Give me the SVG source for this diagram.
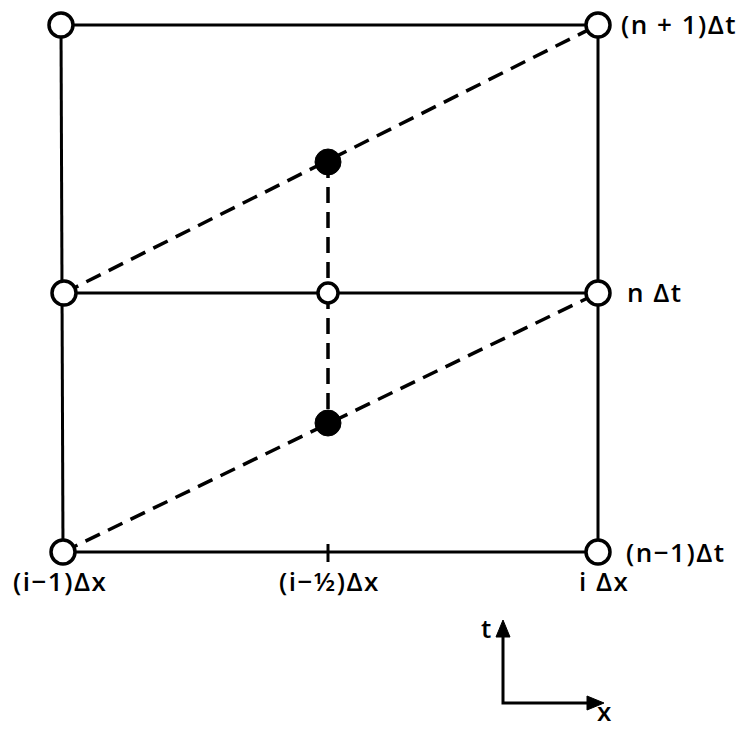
<svg xmlns="http://www.w3.org/2000/svg" width="747" height="729" viewBox="0 0 747 729">
<style>
.ln{stroke:#000;stroke-width:3;fill:none}
.ds{stroke:#000;stroke-width:3.5;fill:none;stroke-dasharray:16 9}
.oc{fill:#fff;stroke:#000;stroke-width:3.5}
.fc{fill:#000;stroke:#000}
.ah{fill:#000;stroke:#000;stroke-width:1}
.tx{font-family:"Open Sans","Liberation Sans",sans-serif;font-size:26px;font-weight:600;letter-spacing:1.5px;fill:#000}
</style>
<rect width="747" height="729" fill="#fff"/>
<g id="connectors">
<line class="ln" x1="61" y1="25" x2="598" y2="25"/>
<line class="ln" x1="61" y1="25" x2="63" y2="552"/>
<line class="ln" x1="598" y1="25" x2="598" y2="552"/>
<line class="ln" x1="64" y1="293" x2="598" y2="293"/>
<line class="ln" x1="63" y1="552" x2="598" y2="552"/>
<line class="ln" x1="328" y1="544" x2="328" y2="562" stroke-width="2"/>
<line class="ds" x1="64" y1="293" x2="598" y2="25"/>
<line class="ds" x1="63" y1="552" x2="598" y2="293"/>
<line class="ds" x1="328" y1="162" x2="328" y2="293"/>
<line class="ds" x1="328" y1="293" x2="328" y2="423"/>
<polyline class="ln" points="503,632 503,703 592,703" stroke-width="4"/>
<path class="ah" d="M503,620 L510,637 L496,637 Z"/>
<path class="ah" d="M604,703 L587,710 L587,696 Z"/>
</g>
<g id="n_tl"><circle class="oc" cx="61" cy="25" r="12"/></g>
<g id="n_tr"><circle class="oc" cx="598" cy="25" r="12"/><text class="tx" x="621" y="34">(n + 1)Δt</text></g>
<g id="n_ml"><circle class="oc" cx="64" cy="293" r="12"/></g>
<g id="n_mc"><circle class="oc" cx="328" cy="293" r="10" stroke-width="7"/></g>
<g id="n_mr"><circle class="oc" cx="598" cy="293" r="12"/><text class="tx" x="627" y="302">n Δt</text></g>
<g id="n_bl"><circle class="oc" cx="63" cy="552" r="12"/><text class="tx" x="13" y="591">(i−1)Δx</text></g>
<g id="n_bc"><text class="tx" x="279" y="591">(i−½)Δx</text></g>
<g id="n_br"><circle class="oc" cx="598" cy="552" r="12"/><text class="tx" x="626" y="562">(n−1)Δt</text><text class="tx" x="579" y="591">i Δx</text></g>
<g id="n_f1"><circle class="fc" cx="328" cy="162" r="13"/></g>
<g id="n_f2"><circle class="fc" cx="328" cy="423" r="13"/></g>
<g id="axes"><text class="tx" x="481" y="638">t</text><text class="tx" x="597" y="721">x</text></g>
</svg>
